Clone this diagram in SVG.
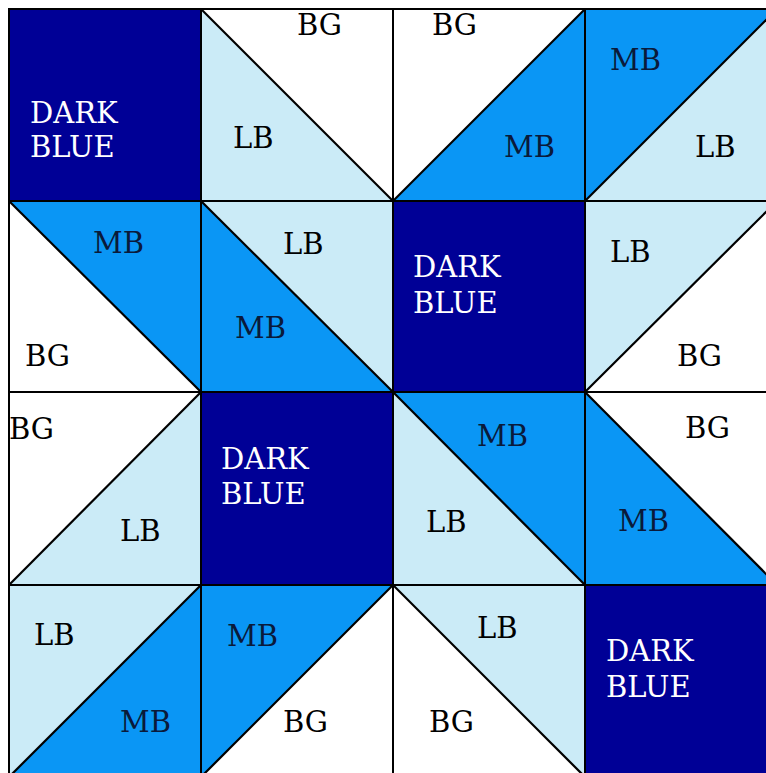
<svg xmlns="http://www.w3.org/2000/svg" width="766" height="773" viewBox="0 0 766 773" font-family="'DejaVu Serif', 'Liberation Serif', serif" font-size="29">
<style>
.db{fill:#000096}
.mb{fill:#0A96F5}
.lb{fill:#CBEBF7}
.bg{fill:#FFFFFF}
.edge{fill:none;stroke:#000;stroke-width:2}
.diag{fill:none;stroke:#000;stroke-width:2.2}
.w{fill:#FFFFFF}
.k{fill:#000000}
.n{fill:#0A1A3A}
</style>
<rect x="0" y="0" width="766" height="773" fill="#FFFFFF"/>
<!-- Row 0 -->
<g id="cell-r0c0">
<rect class="db" x="9" y="9" width="192" height="192"/>
<rect class="edge" x="9" y="9" width="192" height="192"/>
<text class="w" x="30" y="123">DARK</text>
<text class="w" x="30" y="157">BLUE</text>
</g>
<g id="cell-r0c1">
<polygon class="bg" points="201,9 393,9 393,201"/>
<polygon class="lb" points="201,9 201,201 393,201"/>
<rect class="edge" x="201" y="9" width="192" height="192"/>
<line class="diag" x1="201" y1="9" x2="393" y2="201"/>
<text class="k" x="297" y="35">BG</text>
<text class="k" x="233" y="148">LB</text>
</g>
<g id="cell-r0c2">
<polygon class="bg" points="393,9 585,9 393,201"/>
<polygon class="mb" points="585,9 585,201 393,201"/>
<rect class="edge" x="393" y="9" width="192" height="192"/>
<line class="diag" x1="393" y1="201" x2="585" y2="9"/>
<text class="k" x="432" y="35">BG</text>
<text class="n" x="504" y="157">MB</text>
</g>
<g id="cell-r0c3">
<polygon class="mb" points="585,9 777,9 585,201"/>
<polygon class="lb" points="777,9 777,201 585,201"/>
<rect class="edge" x="585" y="9" width="192" height="192"/>
<line class="diag" x1="585" y1="201" x2="777" y2="9"/>
<text class="n" x="610" y="70">MB</text>
<text class="k" x="695" y="157">LB</text>
</g>
<!-- Row 1 -->
<g id="cell-r1c0">
<polygon class="mb" points="9,201 201,201 201,392"/>
<polygon class="bg" points="9,201 9,392 201,392"/>
<rect class="edge" x="9" y="201" width="192" height="191"/>
<line class="diag" x1="9" y1="201" x2="201" y2="392"/>
<text class="n" x="93" y="253">MB</text>
<text class="k" x="25" y="366">BG</text>
</g>
<g id="cell-r1c1">
<polygon class="lb" points="201,201 393,201 393,392"/>
<polygon class="mb" points="201,201 201,392 393,392"/>
<rect class="edge" x="201" y="201" width="192" height="191"/>
<line class="diag" x1="201" y1="201" x2="393" y2="392"/>
<text class="k" x="283" y="254">LB</text>
<text class="n" x="235" y="338">MB</text>
</g>
<g id="cell-r1c2">
<rect class="db" x="393" y="201" width="192" height="191"/>
<rect class="edge" x="393" y="201" width="192" height="191"/>
<text class="w" x="413" y="277">DARK</text>
<text class="w" x="413" y="313">BLUE</text>
</g>
<g id="cell-r1c3">
<polygon class="lb" points="585,201 777,201 585,392"/>
<polygon class="bg" points="777,201 777,392 585,392"/>
<rect class="edge" x="585" y="201" width="192" height="191"/>
<line class="diag" x1="585" y1="392" x2="777" y2="201"/>
<text class="k" x="610" y="262">LB</text>
<text class="k" x="677" y="366">BG</text>
</g>
<!-- Row 2 -->
<g id="cell-r2c0">
<polygon class="bg" points="9,392 201,392 9,585"/>
<polygon class="lb" points="201,392 201,585 9,585"/>
<rect class="edge" x="9" y="392" width="192" height="193"/>
<line class="diag" x1="9" y1="585" x2="201" y2="392"/>
<text class="k" x="9" y="439">BG</text>
<text class="k" x="120" y="541">LB</text>
</g>
<g id="cell-r2c1">
<rect class="db" x="201" y="392" width="192" height="193"/>
<rect class="edge" x="201" y="392" width="192" height="193"/>
<text class="w" x="221" y="469">DARK</text>
<text class="w" x="221" y="504">BLUE</text>
</g>
<g id="cell-r2c2">
<polygon class="mb" points="393,392 585,392 585,585"/>
<polygon class="lb" points="393,392 393,585 585,585"/>
<rect class="edge" x="393" y="392" width="192" height="193"/>
<line class="diag" x1="393" y1="392" x2="585" y2="585"/>
<text class="n" x="477" y="446">MB</text>
<text class="k" x="426" y="532">LB</text>
</g>
<g id="cell-r2c3">
<polygon class="bg" points="585,392 777,392 777,585"/>
<polygon class="mb" points="585,392 585,585 777,585"/>
<rect class="edge" x="585" y="392" width="192" height="193"/>
<line class="diag" x1="585" y1="392" x2="777" y2="585"/>
<text class="k" x="685" y="438">BG</text>
<text class="n" x="618" y="531">MB</text>
</g>
<!-- Row 3 -->
<g id="cell-r3c0">
<polygon class="lb" points="9,585 201,585 9,777"/>
<polygon class="mb" points="201,585 201,777 9,777"/>
<rect class="edge" x="9" y="585" width="192" height="192"/>
<line class="diag" x1="9" y1="777" x2="201" y2="585"/>
<text class="k" x="34" y="645">LB</text>
<text class="n" x="120" y="732">MB</text>
</g>
<g id="cell-r3c1">
<polygon class="mb" points="201,585 393,585 201,777"/>
<polygon class="bg" points="393,585 393,777 201,777"/>
<rect class="edge" x="201" y="585" width="192" height="192"/>
<line class="diag" x1="201" y1="777" x2="393" y2="585"/>
<text class="n" x="227" y="646">MB</text>
<text class="k" x="283" y="732">BG</text>
</g>
<g id="cell-r3c2">
<polygon class="lb" points="393,585 585,585 585,777"/>
<polygon class="bg" points="393,585 393,777 585,777"/>
<rect class="edge" x="393" y="585" width="192" height="192"/>
<line class="diag" x1="393" y1="585" x2="585" y2="777"/>
<text class="k" x="477" y="638">LB</text>
<text class="k" x="429" y="732">BG</text>
</g>
<g id="cell-r3c3">
<rect class="db" x="585" y="585" width="192" height="192"/>
<rect class="edge" x="585" y="585" width="192" height="192"/>
<text class="w" x="606" y="661">DARK</text>
<text class="w" x="606" y="697">BLUE</text>
</g>
</svg>
